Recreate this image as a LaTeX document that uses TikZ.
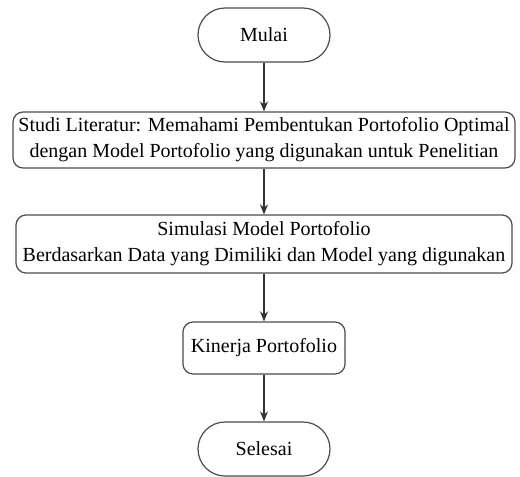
\documentclass[tikz,border=0pt]{standalone}
\usepackage{fontspec}
\setmainfont{Liberation Serif}
\usetikzlibrary{arrows.meta}

\begin{document}
\begin{tikzpicture}[
    x=1pt, y=1pt,
    font=\fontsize{10}{13}\selectfont,
    terminal/.style={draw=black!70, line width=0.6pt, rounded corners=13.5pt,
                minimum width=66pt, minimum height=27pt, text centered, text=black},
    process/.style={draw=black!70, line width=0.6pt, rounded corners=5pt,
                minimum height=28pt, inner sep=2pt, align=center, text=black},
    arrow/.style={-{Stealth[length=5pt, width=4pt]}, draw=black!80, line width=0.8pt}
]
\useasboundingbox (0,0) rectangle (260,-238.5);

%--------
% NODES (top to bottom, centred at x=132)
%--------
\node[terminal] (mulai) at (132, -17.5) {Mulai};
\node[process, minimum width=251pt] (studi) at (132, -70)
    {Studi Literatur: Memahami Pembentukan Portofolio Optimal\\
     dengan Model Portofolio yang digunakan untuk Penelitian};
\node[process, minimum width=248pt, minimum height=29pt] (simulasi) at (132, -122)
    {Simulasi Model Portofolio\\
     Berdasarkan Data yang Dimiliki dan Model yang digunakan};
\node[process, minimum width=81pt, minimum height=26pt] (kinerja) at (132, -174)
    {Kinerja Portofolio};
\node[terminal] (selesai) at (132, -224.5) {Selesai};

%--------
% ARROWS
%--------
\draw[arrow] (mulai) -- (studi);
\draw[arrow] (studi) -- (simulasi);
\draw[arrow] (simulasi) -- (kinerja);
\draw[arrow] (kinerja) -- (selesai);

\end{tikzpicture}
\end{document}
